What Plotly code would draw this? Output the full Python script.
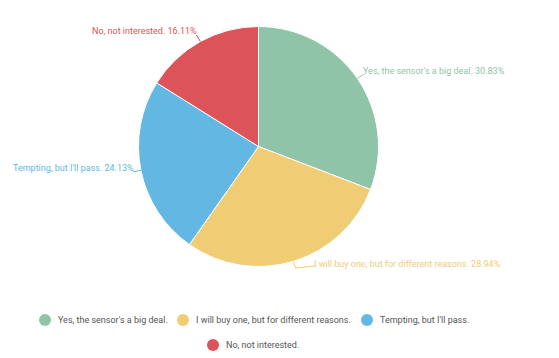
import math
import plotly.graph_objects as go

categories = ["Yes, the sensor's a big deal.", "I will buy one, but for different reasons.",
              "Tempting, but I'll pass.", "No, not interested."]
values = [30.83, 28.94, 24.13, 16.11]
colors = ["#8fc4a8", "#f0cc75", "#62b8e3", "#dc5359"]

W, H = 559, 358
CX, CY, R = 258.5, 146.5, 120.0
FONT = "Roboto, Arial, sans-serif"

def px(x):
    return x / W

def py(y):
    return 1 - y / H

fig = go.Figure()
fig.add_trace(go.Pie(
    labels=categories, values=values, sort=False, direction="clockwise", rotation=0,
    marker=dict(colors=colors, line=dict(color="white", width=1)),
    textinfo="none", hoverinfo="label+percent", showlegend=False,
    domain=dict(x=[px(CX - R), px(CX + R)], y=[py(CY + R), py(CY - R)]),
))

shapes = []
annotations = []
total = sum(values)
cum = 0.0
for cat, v, col in zip(categories, values, colors):
    mid = (cum + v / 2) / total * 2 * math.pi
    cum += v
    ux, uy = math.sin(mid), -math.cos(mid)
    ex, ey = CX + R * ux, CY + R * uy
    kx, ky = CX + (R + 7) * ux, CY + (R + 7) * uy
    right = ux >= 0
    if uy > 0.8:  # bottom label gets a longer connector
        tx, ty = kx + (20 if right else -20), ky - 2
    else:
        tx, ty = kx + (1 if right else -1), ky
    path = f"M {px(ex)},{py(ey)} L {px(kx)},{py(ky)} L {px(tx)},{py(ty)}"
    shapes.append(dict(type="path", xref="paper", yref="paper", path=path,
                       line=dict(color=col, width=1)))
    annotations.append(dict(
        xref="paper", yref="paper", x=px(tx), y=py(ky - 4),
        text=f"{cat} {v:.2f}%", showarrow=False, xanchor="left" if right else "right",
        yanchor="middle", xshift=-3 if right else 3,
        font=dict(family=FONT, size=9, color=col)))

# legend (manual, centred rows)
legend_rows = [[0, 1, 2], [3]]
legend_item_x = [[45, 183, 367], [213]]
legend_row_y = [320, 345]
for row, xs, y in zip(legend_rows, legend_item_x, legend_row_y):
    for i, x in zip(row, xs):
        shapes.append(dict(type="circle", xref="paper", yref="paper",
                           x0=px(x - 6), x1=px(x + 6), y0=py(y + 6), y1=py(y - 6),
                           fillcolor=colors[i], line=dict(width=0)))
        annotations.append(dict(xref="paper", yref="paper", x=px(x + 11), y=py(y),
                                text=categories[i], showarrow=False, xanchor="left",
                                yanchor="middle",
                                font=dict(family=FONT, size=9, color="#555555")))

fig.update_layout(
    width=W, height=H, margin=dict(l=0, r=0, t=0, b=0),
    paper_bgcolor="white", plot_bgcolor="white",
    shapes=shapes, annotations=annotations, font=dict(family=FONT),
)
fig.write_html("out.html", config={"displayModeBar": False},
               post_script="document.body.style.margin='0';document.body.style.overflow='hidden';")
